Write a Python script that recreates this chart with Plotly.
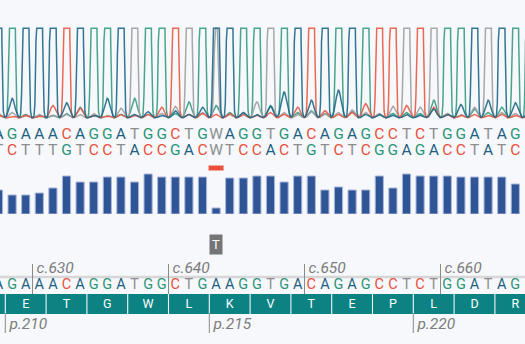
import numpy as np
import plotly.graph_objects as go

# ---------------- data ----------------
called = list("AGAAACAGGATGGCTGWAGGTGACAGAGCCTCTGGATAG")
reference = list("AGAAACAGGATGGCTGAAGGTGACAGAGCCTCTGGATAG")
complement_map = {"A": "T", "T": "A", "G": "C", "C": "G", "W": "W"}
complement = [complement_map[b] for b in called]

quality = [24, 19, 19, 21, 26, 38, 32, 32, 37, 37, 32, 40, 37, 37, 37, 37, 6, 36, 36, 38,
           38, 32, 38, 38, 24, 27, 24, 24, 38, 26, 40, 38, 38, 38, 37, 37, 37, 37, 30]

mismatch_idx = [16]
variant_allele = ["T"]

amino_acids = ["", "E", "T", "G", "W", "L", "K", "V", "T", "E", "P", "L", "D", "R"]
first_codon_idx = -2          # base index where the first (partial) codon starts

c_first = 627                 # c. number of base index 0
c_labels = [630, 640, 650, 660]
p_first = 209                 # protein number of the first codon
p_labels = [210, 215, 220]

# chromatogram peak amplitudes per base index 0..39 (1000 = top of view)
peak_A = [9000, 220, 9000, 9000, 9000, 170, 9000, 30, 220, 9000, 40, 70, 30, 80, 40, 120, 9000, 9000, 60, 40,
          130, 290, 9000, 200, 9000, 310, 9000, 40, 40, 30, 40, 30, 100, 40, 150, 9000, 200, 9000, 170, 60]
peak_C = [30, 20, 30, 20, 140, 9000, 110, 30, 20, 40, 30, 40, 120, 9000, 40, 50, 40, 50, 40, 30,
          60, 40, 120, 9000, 80, 40, 60, 160, 9000, 9000, 140, 9000, 120, 40, 30, 40, 30, 40, 30, 30]
peak_G = [40, 9000, 40, 30, 30, 50, 120, 9000, 9000, 40, 220, 9000, 9000, 50, 180, 9000, 140, 60, 9000, 9000,
          140, 9000, 60, 80, 50, 9000, 70, 9000, 40, 50, 60, 50, 200, 9000, 9000, 100, 60, 120, 9000, 9000]
peak_T = [50, 60, 30, 40, 30, 40, 40, 50, 30, 110, 9000, 40, 50, 130, 9000, 60, 1400, 40, 60, 180,
          9000, 60, 40, 70, 50, 60, 90, 60, 50, 130, 9000, 120, 9000, 50, 40, 120, 9000, 60, 50, 40]

# ---------------- style ----------------
BG = "#f6f8fb"
seq_colors = {"A": "#1d5f80", "G": "#2b9577", "C": "#e8503c", "T": "#8d8d8d", "W": "#8d8d8d"}
trace_colors = {"A": "#1f6889", "C": "#e85a45", "G": "#379c84", "T": "#a0a0a0"}
FONT = "Roboto"
W, H = 525, 344
STEP = 13.6
x_lo = 1.5 / STEP
x_hi = x_lo + W / STEP


def pdom(top_px, bottom_px):
    return [1 - bottom_px / H, 1 - top_px / H]


fig = go.Figure()

# chromatogram
xs = np.linspace(-1, 40, 4101)
for ch, amps in [("G", peak_G), ("T", peak_T), ("C", peak_C), ("A", peak_A)]:
    sig = np.zeros_like(xs)
    for i, a in enumerate(amps):
        s = 0.115 if a >= 1000 else 0.2
        sig += a * np.exp(-((xs - i) ** 2) / (2 * s * s))
    sig = np.minimum(sig, 1000)
    fig.add_trace(go.Scatter(x=xs, y=sig, mode="lines", yaxis="y",
                             line=dict(color=trace_colors[ch], width=1.5),
                             opacity=0.9, hoverinfo="skip", showlegend=False))

idx = list(range(len(called)))

# quality bars
fig.add_trace(go.Bar(x=idx, y=quality, yaxis="y2", width=0.6,
                     marker=dict(color="#2f5596", line=dict(color="#a9b7da", width=1)),
                     hoverinfo="skip", showlegend=False))
# mismatch marker
fig.add_trace(go.Bar(x=mismatch_idx, y=[5] * len(mismatch_idx), base=[43.5] * len(mismatch_idx),
                     yaxis="y2", width=1.1,
                     marker=dict(color="#e8503c", line=dict(color="#f3a89c", width=0.6)),
                     hoverinfo="skip", showlegend=False))

# amino acid band
aa_centers = [first_codon_idx + 1 + 3 * k for k in range(len(amino_acids))]
fig.add_trace(go.Bar(x=aa_centers, y=[1] * len(amino_acids), yaxis="y3", width=2.92,
                     marker=dict(color="#0c8282", line=dict(width=0)),
                     hoverinfo="skip", showlegend=False))
fig.add_trace(go.Scatter(x=aa_centers, y=[304.5] * len(amino_acids), yaxis="y4", mode="text",
                         text=amino_acids, textposition="middle center",
                         textfont=dict(family=FONT, size=12.5, color="white"),
                         hoverinfo="skip", showlegend=False))

# sequence rows
fig.add_trace(go.Scatter(x=idx, y=[135.5] * len(idx), yaxis="y4", mode="text", text=called,
                         textposition="middle center",
                         textfont=dict(family=FONT, size=15.5, color=[seq_colors[b] for b in called]),
                         hoverinfo="skip", showlegend=False))
fig.add_trace(go.Scatter(x=idx, y=[150.7] * len(idx), yaxis="y4", mode="text", text=complement,
                         textposition="middle center",
                         textfont=dict(family=FONT, size=15.5, color=[seq_colors[b] for b in complement]),
                         hoverinfo="skip", showlegend=False))
fig.add_trace(go.Scatter(x=idx, y=[285.8] * len(idx), yaxis="y4", mode="text", text=reference,
                         textposition="middle center",
                         textfont=dict(family=FONT, size=14.5, color=[seq_colors[b] for b in reference]),
                         hoverinfo="skip", showlegend=False))

# c. ticks and labels
c_pos = [c - c_first - 0.5 for c in c_labels]
tx, ty = [], []
for p in c_pos:
    tx += [p, p, None]
    ty += [264, 294, None]
p_pos = [first_codon_idx + 3 * (p - p_first) - 0.5 for p in p_labels]
for p in p_pos:
    tx += [p, p, None]
    ty += [313, 333, None]
fig.add_trace(go.Scatter(x=tx, y=ty, yaxis="y4", mode="lines",
                         line=dict(color="#8a8a8a", width=1),
                         hoverinfo="skip", showlegend=False))
fig.add_trace(go.Scatter(x=[p + 0.3 for p in c_pos], y=[268.8] * len(c_pos), yaxis="y4", mode="text",
                         text=[f"c.{c}" for c in c_labels], textposition="middle right",
                         textfont=dict(family=FONT, size=15.5, color="#7c7c7c", style="italic"),
                         hoverinfo="skip", showlegend=False))
fig.add_trace(go.Scatter(x=[p + 0.3 for p in p_pos], y=[325.5] * len(p_pos), yaxis="y4", mode="text",
                         text=[f"p.{p}" for p in p_labels], textposition="middle right",
                         textfont=dict(family=FONT, size=15.5, color="#7c7c7c", style="italic"),
                         hoverinfo="skip", showlegend=False))

# variant badge
for m, v in zip(mismatch_idx, variant_allele):
    fig.add_annotation(x=m, y=244, xref="x", yref="y4", text=v, showarrow=False,
                       font=dict(family=FONT, size=13, color="white"),
                       bgcolor="#757575", width=12, height=19, borderpad=0)

ax = dict(visible=False, showgrid=False, zeroline=False, fixedrange=True)
fig.update_layout(
    width=W, height=H, margin=dict(l=0, r=0, t=0, b=0),
    paper_bgcolor=BG, plot_bgcolor="rgba(0,0,0,0)", barmode="overlay", showlegend=False,
    xaxis=dict(range=[x_lo, x_hi], domain=[0, 1], **ax),
    yaxis=dict(range=[-22.3, 1025.6], domain=pdom(26, 120), **ax),
    yaxis2=dict(range=[0, 54], domain=pdom(160, 214), **ax),
    yaxis3=dict(range=[0, 1], domain=pdom(294, 314), **ax),
    yaxis4=dict(range=[H, 0], domain=[0, 1], **ax),
    shapes=[dict(type="line", xref="paper", yref="y4", x0=0, x1=1, y0=277, y1=277,
                 line=dict(color="#d6d6d6", width=2.5), layer="below")],
)

fig.write_html("out.html")
